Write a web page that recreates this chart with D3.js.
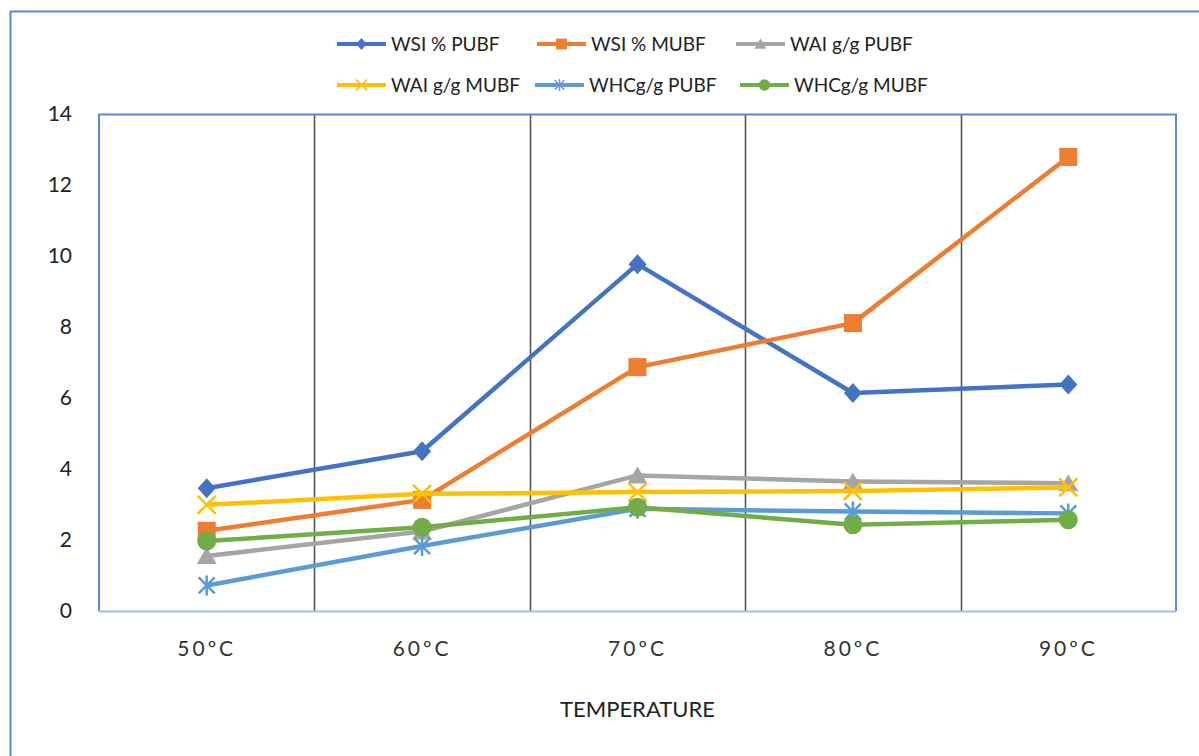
<!DOCTYPE html>
<html>
<head>
<meta charset="utf-8">
<script src="https://cdn.jsdelivr.net/npm/d3@7"></script>
<style>
  body { margin: 0; background: #fff; }
  svg { display: block; font-family: Lato, "Open Sans", sans-serif; }
</style>
</head>
<body>
<div id="chart"></div>
<script>
// temperature categories
const temps = ["50ºC", "60ºC", "70ºC", "80ºC", "90ºC"];
const yTicks = [0, 2, 4, 6, 8, 10, 12, 14];

// series values
const wsiPubf = [3.46, 4.5, 9.77, 6.14, 6.38];
const wsiMubf = [2.26, 3.13, 6.87, 8.11, 12.79];
const waiPubf = [1.55, 2.24, 3.82, 3.65, 3.6];
const waiMubf = [2.99, 3.3, 3.35, 3.38, 3.48];
const whcPubf = [0.72, 1.83, 2.88, 2.8, 2.75];
const whcMubf = [1.97, 2.36, 2.92, 2.43, 2.57];

const seriesNames = ["WSI % PUBF", "WSI % MUBF", "WAI g/g PUBF", "WAI g/g MUBF", "WHCg/g PUBF", "WHCg/g MUBF"];
const seriesValues = [wsiPubf, wsiMubf, waiPubf, waiMubf, whcPubf, whcMubf];
const seriesColors = ["#4472C4", "#ED7D31", "#A5A5A5", "#FFC000", "#5B9BD5", "#70AD47"];
const seriesMarkers = ["diamond", "square", "triangle", "x", "star", "circle"];

const W = 1199, H = 756;
const margin = { top: 114, right: 23, bottom: 145, left: 99 };
const width = W - margin.left - margin.right;
const height = H - margin.top - margin.bottom;

const svg = d3.select("#chart").append("svg")
    .attr("width", W)
    .attr("height", H);

// outer chart frame (runs off the right and bottom edges)
svg.append("path")
    .attr("d", `M${W + 5},11.5 H10.5 V${H + 5}`)
    .attr("fill", "none")
    .attr("stroke", "#5B87D6")
    .attr("stroke-width", 2);

const g = svg.append("g")
    .attr("transform", `translate(${margin.left}, ${margin.top})`);

const x = d3.scaleBand().domain(temps).range([0, width]);
const y = d3.scaleLinear().domain([0, 14]).range([height, 0]);

// vertical separators between categories
g.selectAll(".sep")
    .data(temps.slice(1))
    .enter().append("line")
    .attr("class", "sep")
    .attr("x1", d => Math.round(x(d)) + 0.5)
    .attr("x2", d => Math.round(x(d)) + 0.5)
    .attr("y1", 0)
    .attr("y2", height)
    .attr("stroke", "#555")
    .attr("stroke-width", 1.6);

// plot area border: blue on top, left and right, pale axis at bottom
g.append("path")
    .attr("d", `M0,${height} V0.5 H${width} V${height}`)
    .attr("fill", "none")
    .attr("stroke", "#5B87D6")
    .attr("stroke-width", 2);

g.append("line")
    .attr("x1", 0).attr("x2", width)
    .attr("y1", height + 0.5).attr("y2", height + 0.5)
    .attr("stroke", "#A9BCE0")
    .attr("stroke-width", 2);

// y axis labels
const yAxis = d3.axisLeft(y).tickValues(yTicks).tickSize(0).tickPadding(27);
g.append("g")
    .attr("class", "y-axis")
    .call(yAxis)
    .call(a => a.select(".domain").remove())
    .selectAll("text")
    .style("font-size", "21px")
    .style("font-family", "Lato, sans-serif")
    .attr("fill", "#222");

// x axis labels
const xAxis = d3.axisBottom(x).tickSize(0).tickPadding(30);
g.append("g")
    .attr("class", "x-axis")
    .attr("transform", `translate(0, ${height})`)
    .call(xAxis)
    .call(a => a.select(".domain").remove())
    .selectAll("text")
    .style("font-size", "21px")
    .style("font-family", "Lato, sans-serif")
    .style("letter-spacing", "3px")
    .attr("fill", "#333");

// axis title
svg.append("text")
    .attr("x", margin.left + width / 2)
    .attr("y", 717)
    .attr("text-anchor", "middle")
    .style("font-size", "22px")
    .attr("fill", "#222")
    .text("TEMPERATURE");

function drawMarker(sel, type, color) {
    if (type === "diamond") {
        sel.append("path").attr("d", "M0,-10 L9,0 L0,10 L-9,0 Z").attr("fill", color);
    } else if (type === "square") {
        sel.append("rect").attr("x", -9).attr("y", -9).attr("width", 18).attr("height", 18).attr("fill", color);
    } else if (type === "triangle") {
        sel.append("path").attr("d", "M0,-9 L10,8 L-10,8 Z").attr("fill", color);
    } else if (type === "circle") {
        sel.append("circle").attr("r", 9.5).attr("fill", color);
    } else if (type === "x") {
        sel.append("path").attr("d", "M-9,-9 L9,9 M-9,9 L9,-9")
            .attr("stroke", color).attr("stroke-width", 2.5).attr("fill", "none");
    } else if (type === "star") {
        sel.append("path").attr("d", "M-8,-8 L8,8 M-8,8 L8,-8 M0,-10 V10")
            .attr("stroke", color).attr("stroke-width", 2.5).attr("fill", "none");
    }
}

const line = d3.line()
    .x((d, i) => x(temps[i]) + x.bandwidth() / 2)
    .y(d => y(d));

seriesValues.forEach((vals, s) => {
    g.append("path")
        .datum(vals)
        .attr("fill", "none")
        .attr("stroke", seriesColors[s])
        .attr("stroke-width", 4.5)
        .attr("stroke-linejoin", "round")
        .attr("d", line);

    vals.forEach((v, i) => {
        const m = g.append("g")
            .attr("transform", `translate(${x(temps[i]) + x.bandwidth() / 2}, ${y(v)})`);
        drawMarker(m, seriesMarkers[s], seriesColors[s]);
    });
});

// legend, two rows of three
const legendPos = [
    [337, 44], [537, 44], [736, 44],
    [337, 85], [535, 85], [740, 85]
];
seriesNames.forEach((name, s) => {
    const lg = svg.append("g").attr("transform", `translate(${legendPos[s][0]}, ${legendPos[s][1]})`);
    lg.append("line")
        .attr("x1", 0).attr("x2", 49)
        .attr("stroke", seriesColors[s])
        .attr("stroke-width", 4);
    const m = lg.append("g").attr("transform", "translate(24.5,0) scale(0.6)");
    drawMarker(m, seriesMarkers[s], seriesColors[s]);
    lg.append("text")
        .attr("x", 54)
        .attr("y", 7)
        .style("font-size", "19px")
        .attr("fill", "#222")
        .text(name);
});
</script>
</body>
</html>
